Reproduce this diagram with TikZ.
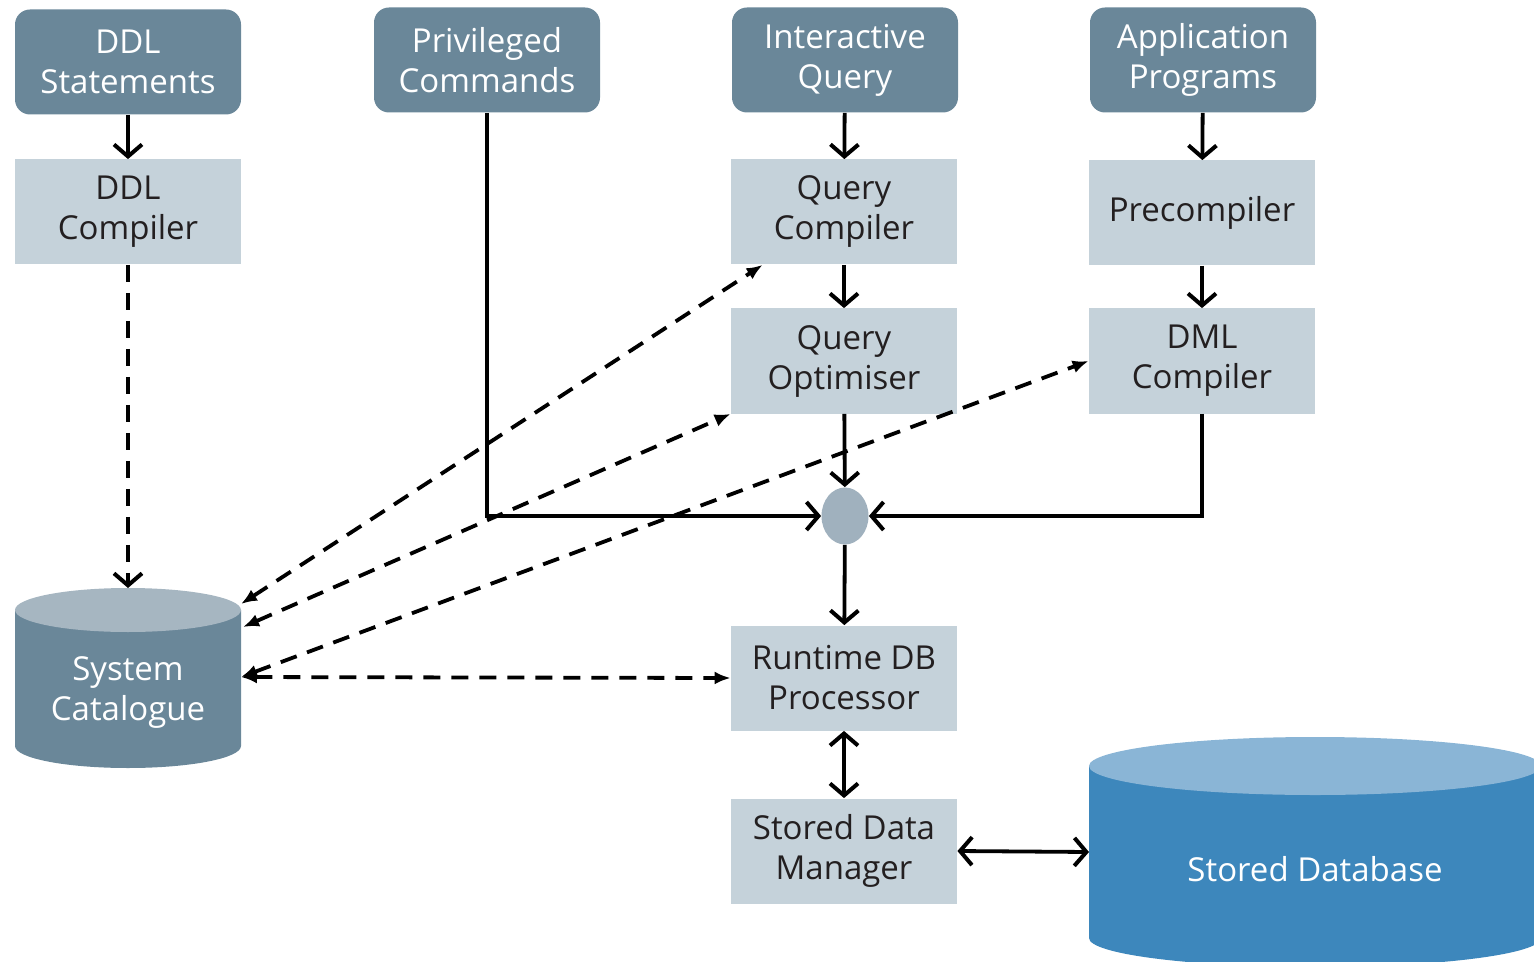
\documentclass[tikz,border=0pt]{standalone}
\usepackage{fontspec}
\setmainfont{Open Sans}
\usepackage{xcolor}
\usetikzlibrary{arrows.meta,shapes.geometric}

\definecolor{srcblue}{HTML}{6A8799}
\definecolor{stepgrey}{HTML}{C5D2DA}
\definecolor{inkgrey}{HTML}{231F20}
\definecolor{joingrey}{HTML}{A0B1BE}
\definecolor{cattop}{HTML}{A6B6C1}
\definecolor{dbbody}{HTML}{3D87BC}
\definecolor{dbtop}{HTML}{8AB5D6}

\tikzset{
	boxfont/.style={font=\fontsize{16.5}{20}\selectfont},
	srcbox/.style={boxfont, fill=srcblue, text=white, rounded corners=7.5pt,
		minimum width=113pt, minimum height=52.5pt, inner sep=0pt, align=center},
	stepbox/.style={boxfont, fill=stepgrey, text=inkgrey,
		minimum width=113pt, minimum height=52.5pt, inner sep=0pt, align=center},
	barb/.tip={Straight Barb[length=6pt,width=14pt,line width=2pt]},
	flow/.style={line width=1.9pt, -barb},
	twoway/.style={line width=1.9pt, barb-barb},
	lookup/.style={line width=1.9pt, dash pattern=on 8.5pt off 5.5pt,
		{Latex[length=8pt,width=6.5pt]}-{Latex[length=8pt,width=6.5pt]}},
}

\begin{document}
\begin{tikzpicture}[x=0.5pt,y=-0.5pt]
		\useasboundingbox (0,0) rectangle (1534,962);
		% inputs
		\node[srcbox] (ddl) at (128,62) {DDL\\Statements};
		\node[srcbox] (priv) at (487,60) {Privileged\\Commands};
		\node[srcbox] (inter) at (845,60) {Interactive\\Query};
		\node[srcbox] (app) at (1203,60) {Application\\Programs};
		% processing steps
		\node[stepbox] (ddlc) at (128,212) {DDL\\Compiler};
		\node[stepbox] (qc) at (844,212) {Query\\Compiler};
		\node[stepbox] (pre) at (1202,213) {Precompiler};
		\node[stepbox] (qo) at (844,361) {Query\\Optimiser};
		\node[stepbox] (dml) at (1202,361) {DML\\Compiler};
		\node[ellipse, fill=joingrey, minimum width=23.5pt, minimum height=28.5pt, inner sep=0pt] (jn) at (845,516) {};
		\node[stepbox] (rt) at (844,678) {Runtime DB\\Processor};
		\node[stepbox] (sdm) at (844,851) {Stored Data\\Manager};
		% system catalogue
		\fill[srcblue] (15,610) -- (15,746) arc[start angle=180,end angle=360,x radius=56.5pt,y radius=11pt] -- (241,610) -- cycle;
		\fill[cattop] (128,610) ellipse[x radius=56.5pt,y radius=11pt];
		\node[boxfont, text=white, align=center] (cat) at (128,693) {System\\Catalogue};
		\coordinate (catA) at (241,604);
		\coordinate (catB) at (243,627);
		\coordinate (catE) at (241,677);
		% stored database
		\fill[dbbody] (1089,766) -- (1089,938) arc[start angle=180,end angle=360,x radius=113pt,y radius=14.5pt] -- (1541,766) -- cycle;
		\fill[dbtop] (1315,766) ellipse[x radius=113pt,y radius=14.5pt];
		\node[boxfont, text=white] (db) at (1315,869) {Stored Database};
		\coordinate (dbW) at (1089,852);
		% solid flow
		\draw[flow] (ddl) -- (ddlc);
		\draw[flow] (inter) -- (qc);
		\draw[flow] (qc) -- (qo);
		\draw[flow] (qo) -- (jn);
		\draw[flow] (app) -- (pre);
		\draw[flow] (pre) -- (dml);
		\draw[flow] (priv.south) -- (priv.south |- jn.west) -- (jn.west);
		\draw[flow] (dml.south) -- (dml.south |- jn.east) -- (jn.east);
		\draw[flow] (jn) -- (rt);
		\draw[twoway] (rt) -- (sdm);
		\draw[twoway] (sdm.east) -- (dbW);
		% catalogue lookups
		\draw[flow, dash pattern=on 8.5pt off 5.5pt] (ddlc) -- (128,588);
		\draw[lookup] (catA) -- ([xshift=16pt]qc.south west);
		\draw[lookup] (catB) -- (qo.south west);
		\draw[lookup] (catE) -- (dml.west);
		\draw[lookup] (catE) -- (rt.west);
	\end{tikzpicture}
\end{document}
